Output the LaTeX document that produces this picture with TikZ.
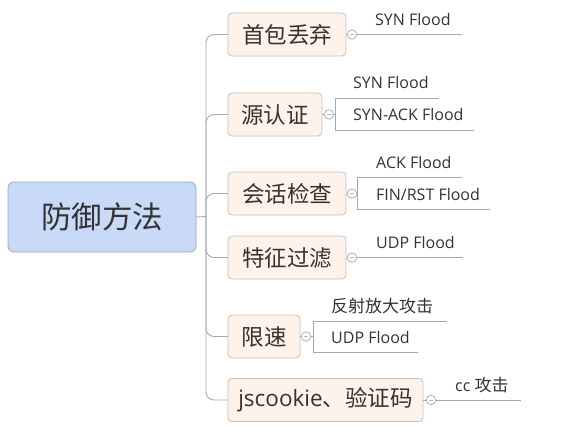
\documentclass[tikz,border=0pt]{standalone}
\usepackage{fontspec}
\setmainfont{Open Sans}
\newfontfamily\cjk{Noto Sans CJK SC}
\definecolor{boxline}{HTML}{C9BFB4}
\definecolor{boxfill}{HTML}{FDF3EA}
\definecolor{rootline}{HTML}{8FA6CF}
\definecolor{rootfill}{HTML}{C9DAF8}
\definecolor{lncol}{HTML}{A8A8A8}
\definecolor{txt}{HTML}{333333}
\begin{document}
\begin{tikzpicture}[x=1pt,y=-1pt,
  topic/.style={draw=boxline, fill=boxfill, rounded corners=4pt, line width=0.8pt,
    minimum height=43pt, anchor=west, inner sep=0pt, outer sep=0pt,
    font=\cjk\fontsize{22.5}{26}\selectfont, text=txt},
  rootbox/.style={draw=rootline, fill=rootfill, rounded corners=6pt, line width=0.8pt,
    minimum width=188pt, minimum height=70pt, inner sep=0pt, outer sep=0pt,
    font=\cjk\fontsize{30.5}{34}\selectfont, text=txt},
  conn/.style={draw=lncol, line width=0.9pt},
  fold/.style={circle, draw=lncol, fill=white, minimum size=9.5pt, inner sep=0pt,
    line width=0.7pt, path picture={\draw[lncol!80, line width=0.5pt]
      ([xshift=-2pt]path picture bounding box.center) --
      ([xshift=2pt]path picture bounding box.center);}},
  lab/.style={anchor=base west, inner sep=0pt, font=\fontsize{16}{19}\selectfont, text=txt},
  cjklab/.style={lab, font=\cjk\fontsize{17}{20}\selectfont}]
\useasboundingbox (0,0) rectangle (575,441);

% root and topics
\node[rootbox] (root) at (102,217) {防御方法};
\coordinate (j) at (206,216.5);
\node[topic, minimum width=118pt] (k1) at (228,34.5) {首包丢弃};
\node[topic, minimum width=94pt]  (k2) at (228,114.5) {源认证};
\node[topic, minimum width=118pt] (k3) at (228,193.5) {会话检查};
\node[topic, minimum width=118pt] (k4) at (228,257.5) {特征过滤};
\node[topic, minimum width=72pt]  (k5) at (228,336.5) {限速};
\node[topic, minimum width=195pt] (k6) at (228,400) {\fontspec{Open Sans}jscookie{\cjk 、验证码}};

% trunk and branches
\draw[conn] (root.east) -- (j);
\foreach \k in {k1,k2,k3,k4,k5,k6}
  \draw[conn, rounded corners=8pt] (j) |- (\k.west);

% fold circles
\node[fold] (f1) at (352,34.5) {};
\node[fold] (f2) at (329,114.5) {};
\node[fold] (f3) at (352,193.5) {};
\node[fold] (f4) at (352,257.5) {};
\node[fold] (f5) at (306,336.5) {};
\node[fold] (f6) at (431,400) {};
\foreach \i in {1,...,6}
  \draw[conn] (k\i.east) -- (f\i);

% child 1
\coordinate (e1) at (462,34.5);
\draw[conn] (f1) -- (e1);
\node[lab] (l1) at (375,26) {SYN Flood};

% child 2
\coordinate (b2m) at (335,114.5);
\coordinate (b2t) at (335,98);
\coordinate (b2b) at (335,130);
\coordinate (e2a) at (439,98);
\coordinate (e2b) at (474,130);
\draw[conn] (f2) -- (b2m);
\draw[conn] (e2a) -- (b2t) -- (b2b) -- (e2b);
\node[lab] (l2a) at (353,89) {SYN Flood};
\node[lab] (l2b) at (353,121) {SYN-ACK Flood};

% child 3
\coordinate (b3m) at (357,193.5);
\coordinate (b3t) at (357,177);
\coordinate (b3b) at (357,209);
\coordinate (e3a) at (462,177);
\coordinate (e3b) at (490,209);
\draw[conn] (f3) -- (b3m);
\draw[conn] (e3a) -- (b3t) -- (b3b) -- (e3b);
\node[lab] (l3a) at (376,168) {ACK Flood};
\node[lab] (l3b) at (376,200) {FIN/RST Flood};

% child 4
\coordinate (e4) at (463,257.5);
\draw[conn] (f4) -- (e4);
\node[lab] (l4) at (376,248) {UDP Flood};

% child 5
\coordinate (b5m) at (313,336.5);
\coordinate (b5t) at (313,321);
\coordinate (b5b) at (313,352);
\coordinate (e5a) at (447,321);
\coordinate (e5b) at (418,352);
\draw[conn] (f5) -- (b5m);
\draw[conn] (e5a) -- (b5t) -- (b5b) -- (e5b);
\node[cjklab] (l5a) at (331,312) {反射放大攻击};
\node[lab] (l5b) at (331,343) {UDP Flood};

% child 6
\coordinate (e6) at (521,400);
\draw[conn] (f6) -- (e6);
\node[lab] (l6) at (455,391) {cc {\cjk\fontsize{17}{20}\selectfont 攻击}};
\end{tikzpicture}
\end{document}
